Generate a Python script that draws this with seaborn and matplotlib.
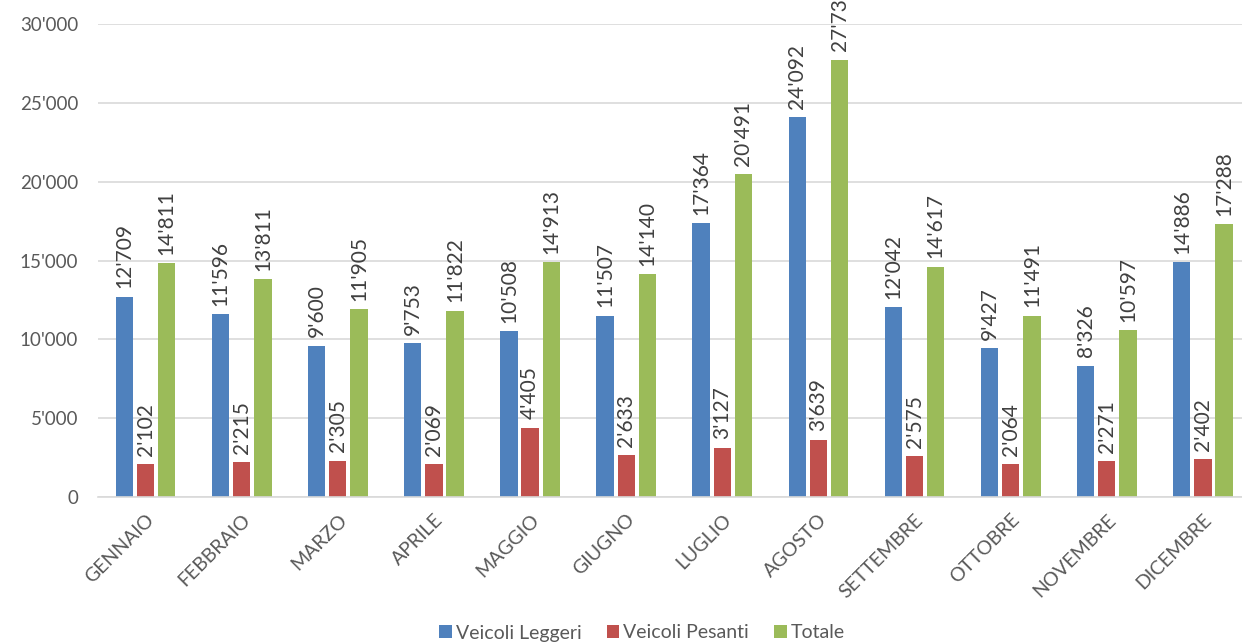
import matplotlib
matplotlib.use("Agg")
import matplotlib.pyplot as plt
import seaborn as sns
import pandas as pd
from matplotlib.patches import Patch

months = ["GENNAIO", "FEBBRAIO", "MARZO", "APRILE", "MAGGIO", "GIUGNO",
          "LUGLIO", "AGOSTO", "SETTEMBRE", "OTTOBRE", "NOVEMBRE", "DICEMBRE"]
leggeri = [12709, 11596, 9600, 9753, 10508, 11507, 17364, 24092, 12042, 9427, 8326, 14886]
pesanti = [2102, 2215, 2305, 2069, 4405, 2633, 3127, 3639, 2575, 2064, 2271, 2402]
totale = [14811, 13811, 11905, 11822, 14913, 14140, 20491, 27731, 14617, 11491, 10597, 17288]
series = ["Veicoli Leggeri", "Veicoli Pesanti", "Totale"]
colors = ["#4F81BD", "#C0504D", "#9BBB59"]
yticks = [0, 5000, 10000, 15000, 20000, 25000, 30000]

def fmt(v):
    return f"{v:,}".replace(",", "'")

rows = []
for name, vals in zip(series, [leggeri, pesanti, totale]):
    for m, v in zip(months, vals):
        rows.append({"mese": m, "serie": name, "valore": v})
df = pd.DataFrame(rows)

sns.set_theme(style="white")
plt.rcParams['font.family'] = ['Lato', 'DejaVu Sans']
txt = "#595959"

fig = plt.figure(figsize=(12.42, 6.44), dpi=100)
ax = fig.add_axes([97.5 / 1242, 1 - 497 / 644, (1251 - 97.5) / 1242, (497 - 24) / 644])

sns.barplot(data=df, x="mese", y="valore", hue="serie", hue_order=series,
            order=months, palette=colors, width=0.66, gap=0.18,
            saturation=1, ax=ax, legend=False, edgecolor="none")

for cont, vals in zip(ax.containers, [leggeri, pesanti, totale]):
    ax.bar_label(cont, labels=[fmt(v) for v in vals], rotation=90,
                 padding=6, fontsize=15, color="#404040")

ax.set_xlim(-0.5, 11.5)
ax.set_ylim(0, 30000)
ax.set_yticks(yticks)
ax.set_yticklabels([fmt(v) for v in yticks], fontsize=13.5, color=txt)
ax.set_xticks(range(len(months)))
ax.set_xticklabels(months, rotation=45, ha="right", rotation_mode="anchor",
                   fontsize=14, color=txt)
ax.tick_params(axis="y", length=0, pad=14)
ax.tick_params(axis="x", length=0, pad=10)
ax.yaxis.grid(True, color="#D9D9D9", linewidth=1.2)
ax.set_axisbelow(True)
for s in ["top", "right", "left"]:
    ax.spines[s].set_visible(False)
ax.spines["bottom"].set_color("#D9D9D9")
ax.spines["bottom"].set_linewidth(1.2)
ax.set_xlabel("")
ax.set_ylabel("")

handles = [Patch(facecolor=c, edgecolor="none") for c in colors]
fig.legend(handles, series, loc="center", bbox_to_anchor=(642 / 1242, 1 - 633 / 644),
           ncol=3, frameon=False, fontsize=14, handlelength=0.65, handleheight=0.65,
           handletextpad=0.2, columnspacing=1.3, labelcolor=txt)

fig.savefig("out.png", dpi=100)
